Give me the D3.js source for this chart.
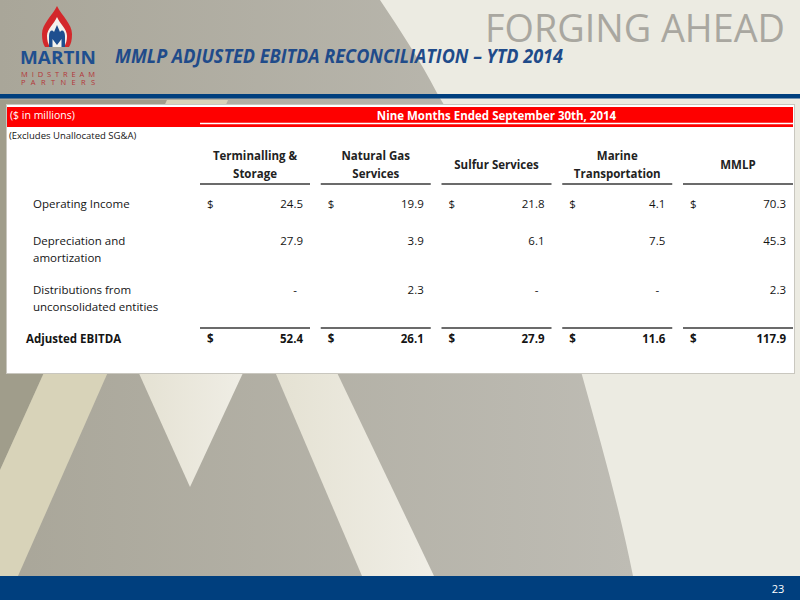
<!DOCTYPE html>
<html><head><meta charset="utf-8">
<script src="https://cdn.jsdelivr.net/npm/d3@7"></script>
<style>html,body{margin:0;padding:0;background:#ecebe2;}svg{display:block;}</style>
</head><body>
<script>
// ---- data ----
const segments = ["Terminalling & Storage", "Natural Gas Services", "Sulfur Services", "Marine Transportation", "MMLP"];
const headerLines = [["Terminalling &", "Storage"], ["Natural Gas", "Services"], ["Sulfur Services"], ["Marine", "Transportation"], ["MMLP"]];
const rowLabels = [["Operating Income"], ["Depreciation and", "amortization"], ["Distributions from", "unconsolidated entities"], ["Adjusted EBITDA"]];
const operatingIncome = [24.5, 19.9, 21.8, 4.1, 70.3];
const depreciation = [27.9, 3.9, 6.1, 7.5, 45.3];
const distributions = [null, 2.3, null, null, 2.3];
const adjustedEbitda = [52.4, 26.1, 27.9, 11.6, 117.9];
const rowValues = [operatingIncome, depreciation, distributions, adjustedEbitda];
const rowHasDollar = [true, false, false, true];
const rowIsTotal = [false, false, false, true];
const titleText = "MMLP ADJUSTED EBITDA RECONCILIATION \u2013 YTD 2014";
const periodText = "Nine Months Ended September 30th, 2014";
const unitText = "($ in millions)";
const noteText = "(Excludes Unallocated SG&A)";
const pageNumber = "23";

const W = 800, H = 600;
const FONT = "'Open Sans', 'DejaVu Sans', sans-serif";
const INK = "#141414";
const svg = d3.select("body").append("svg").attr("width", W).attr("height", H);
const defs = svg.append("defs");

// ---- background ----
const g1 = defs.append("linearGradient").attr("id", "grayG").attr("x1", 0).attr("x2", 1).attr("y1", 0).attr("y2", 0);
g1.append("stop").attr("offset", 0).attr("stop-color", "#a9a699");
g1.append("stop").attr("offset", 1).attr("stop-color", "#bebcb4");
const g2 = defs.append("linearGradient").attr("id", "creamG").attr("x1", 0).attr("x2", 1).attr("y1", 0).attr("y2", 0);
g2.append("stop").attr("offset", 0).attr("stop-color", "#e4e1d2");
g2.append("stop").attr("offset", 1).attr("stop-color", "#f0eee6");

svg.append("rect").attr("width", W).attr("height", H).attr("fill", "#ecebe2");
const line = d3.line();
svg.append("path").attr("fill", "url(#grayG)")
  .attr("d", "M0,0 L380,0 C400,30 420,60 437,93 C500,200 560,300 582,375 C600,440 620,510 633,576 L0,576 Z");
svg.append("path").attr("fill", "#a09d8b").attr("d", line([[0, 100], [167, 100], [0, 470]]) + "Z");
svg.append("path").attr("fill", "#d8d3b9").attr("d", line([[167, 100], [228, 100], [18, 576], [0, 576], [0, 470]]) + "Z");
svg.append("path").attr("fill", "url(#creamG)").attr("d", line([[133, 360], [249, 360], [190, 487]]) + "Z");
svg.append("path").attr("fill", "url(#creamG)").attr("d", line([[270, 360], [331, 360], [434, 576], [362, 576]]) + "Z");

// top rule and bottom bar
svg.append("rect").attr("x", 0).attr("y", 94).attr("width", W).attr("height", 4.5).attr("fill", "#003f7e");
svg.append("rect").attr("x", 0).attr("y", 576).attr("width", W).attr("height", 24).attr("fill", "#003f7e");
svg.append("text").attr("x", 778).attr("y", 588).attr("text-anchor", "middle").attr("dominant-baseline", "central")
  .attr("fill", "#fff").attr("font-family", FONT).attr("font-size", 11).text(pageNumber);

// ---- logo ----
const logo = svg.append("g");
logo.append("path").attr("fill", "#f4f3ee")
  .attr("d", "M57,14 C61,22 69,28 69,36 C69,41 68,44 66,47 L48,47 C46,44 45,41 45,36 C45,28 53,22 57,14 Z");
logo.append("path").attr("fill", "#d3282b")
  .attr("d", "M57,6 C62,16 72,24 72,34 C72,40 71,44 69,47 L64,47 C66,44 67,40 67,36 C67,29 60,24 57,17 C54,24 47,29 47,36 C47,40 48,44 50,47 L45,47 C43,44 42,40 42,34 C42,24 52,16 57,6 Z");
logo.append("path").attr("fill", "#1f4f8f")
  .attr("d", "M49,47 L49,36 C49,31 52,29 54,32 L57,25 L60,32 C62,29 65,31 65,36 L65,47 L61.5,47 L61.5,39 L57,45 L52.5,39 L52.5,47 Z");
logo.append("text").attr("x", 20).attr("y", 64).attr("font-family", FONT).attr("font-weight", 700)
  .attr("font-size", 18).attr("fill", "#1f4f8f").attr("textLength", 76).attr("lengthAdjust", "spacingAndGlyphs").text("MARTIN");
logo.append("text").attr("x", 21).attr("y", 76.5).attr("font-family", FONT).attr("font-size", 7.5)
  .attr("fill", "#b3363a").attr("textLength", 74).attr("lengthAdjust", "spacing").text("MIDSTREAM");
logo.append("text").attr("x", 21).attr("y", 85).attr("font-family", FONT).attr("font-size", 7.5)
  .attr("fill", "#b3363a").attr("textLength", 74).attr("lengthAdjust", "spacing").text("PARTNERS");

// ---- titles ----
svg.append("text").attr("x", 115).attr("y", 63).attr("font-family", FONT).attr("font-weight", 700).attr("font-style", "italic")
  .attr("font-size", 19).attr("fill", "#1f4b8a").attr("textLength", 448).attr("lengthAdjust", "spacingAndGlyphs").text(titleText);
svg.append("text").attr("x", 485).attr("y", 42).attr("font-family", FONT).attr("font-size", 38)
  .attr("fill", "#a9a7a0").attr("textLength", 300).attr("lengthAdjust", "spacingAndGlyphs").text("FORGING AHEAD");

// ---- table panel ----
svg.append("rect").attr("x", 6).attr("y", 104).attr("width", 789).attr("height", 270).attr("fill", "#c9c7bf");
svg.append("rect").attr("x", 7).attr("y", 105).attr("width", 787).attr("height", 268).attr("fill", "#ffffff");
svg.append("rect").attr("x", 7).attr("y", 107).attr("width", 786).attr("height", 20).attr("fill", "#fe0000");

const x = d3.scaleBand().domain(segments).range([200, 793]).paddingInner(0.089).paddingOuter(0);
svg.append("line").attr("x1", x(segments[0])).attr("x2", 793).attr("y1", 123.5).attr("y2", 123.5)
  .attr("stroke", "#fff").attr("stroke-width", 1.5);
svg.append("text").attr("x", 10).attr("y", 115).attr("dominant-baseline", "central").attr("font-family", FONT)
  .attr("font-size", 10.5).attr("fill", "#fff").text(unitText);
svg.append("text").attr("x", x(segments[0]) + (793 - x(segments[0])) / 2).attr("y", 115).attr("dominant-baseline", "central")
  .attr("text-anchor", "middle").attr("font-family", FONT).attr("font-weight", 700)
  .attr("font-size", 11.5).attr("fill", "#fff").text(periodText);
svg.append("text").attr("x", 9).attr("y", 135).attr("dominant-baseline", "central").attr("font-family", FONT)
  .attr("font-size", 9.5).attr("fill", INK).text(noteText);

// column headers
const hdr = svg.append("g").selectAll("g").data(segments).join("g");
hdr.each(function (s, i) {
  const lines = headerLines[i];
  const cy = 164, lh = 18;
  d3.select(this).selectAll("text").data(lines).join("text")
    .attr("x", x(s) + x.bandwidth() / 2)
    .attr("y", (d, k) => cy + (k - (lines.length - 1) / 2) * lh)
    .attr("text-anchor", "middle").attr("dominant-baseline", "central")
    .attr("font-family", FONT).attr("font-weight", 700).attr("font-size", 11.5).attr("fill", "#222")
    .text(d => d);
});

// row positions via cumulative units
const rowUnits = rowLabels.map(l => 26 + 11 * l.length);
const cum = [0];
for (let i = 1; i < rowLabels.length; i++) cum.push(cum[i - 1] + rowUnits[i - 1]);
const y = d3.scaleLinear().domain([0, cum[cum.length - 1]]).range([203, 338]);
const rowY = i => y(cum[i]);

// header underlines
svg.append("g").selectAll("line").data(segments).join("line")
  .attr("x1", d => x(d)).attr("x2", d => x(d) + x.bandwidth())
  .attr("y1", rowY(0) - 19).attr("y2", rowY(0) - 19).attr("stroke", "#3a3a3a").attr("stroke-width", 1.5);
// total rules
svg.append("g").selectAll("line").data(segments).join("line")
  .attr("x1", d => x(d)).attr("x2", d => x(d) + x.bandwidth())
  .attr("y1", rowY(3) - 10).attr("y2", rowY(3) - 10).attr("stroke", "#3a3a3a").attr("stroke-width", 1.5);

const fmt = d3.format(".1f");
rowLabels.forEach((lab, i) => {
  const ry = rowY(i);
  const bold = rowIsTotal[i] ? 700 : 400;
  svg.append("g").selectAll("text").data(lab).join("text")
    .attr("x", rowIsTotal[i] ? 26 : 33).attr("y", (d, k) => ry + k * 17)
    .attr("dominant-baseline", "central").attr("font-family", FONT).attr("font-size", 11.5)
    .attr("font-weight", bold).attr("fill", INK).text(d => d);
  const vals = rowValues[i];
  const cells = svg.append("g").selectAll("g").data(segments).join("g");
  cells.append("text")
    .attr("x", (s, j) => vals[j] == null ? x(s) + x.bandwidth() - 13 : x(s) + x.bandwidth() - 7)
    .attr("y", ry).attr("text-anchor", "end").attr("dominant-baseline", "central")
    .attr("font-family", FONT).attr("font-size", 11.5).attr("font-weight", bold).attr("fill", INK)
    .text((s, j) => vals[j] == null ? "-" : fmt(vals[j]));
  if (rowHasDollar[i]) {
    cells.append("text").attr("x", s => x(s) + 7).attr("y", ry).attr("dominant-baseline", "central")
      .attr("font-family", FONT).attr("font-size", 11.5).attr("font-weight", bold).attr("fill", INK).text("$");
  }
});
</script>
</body></html>
